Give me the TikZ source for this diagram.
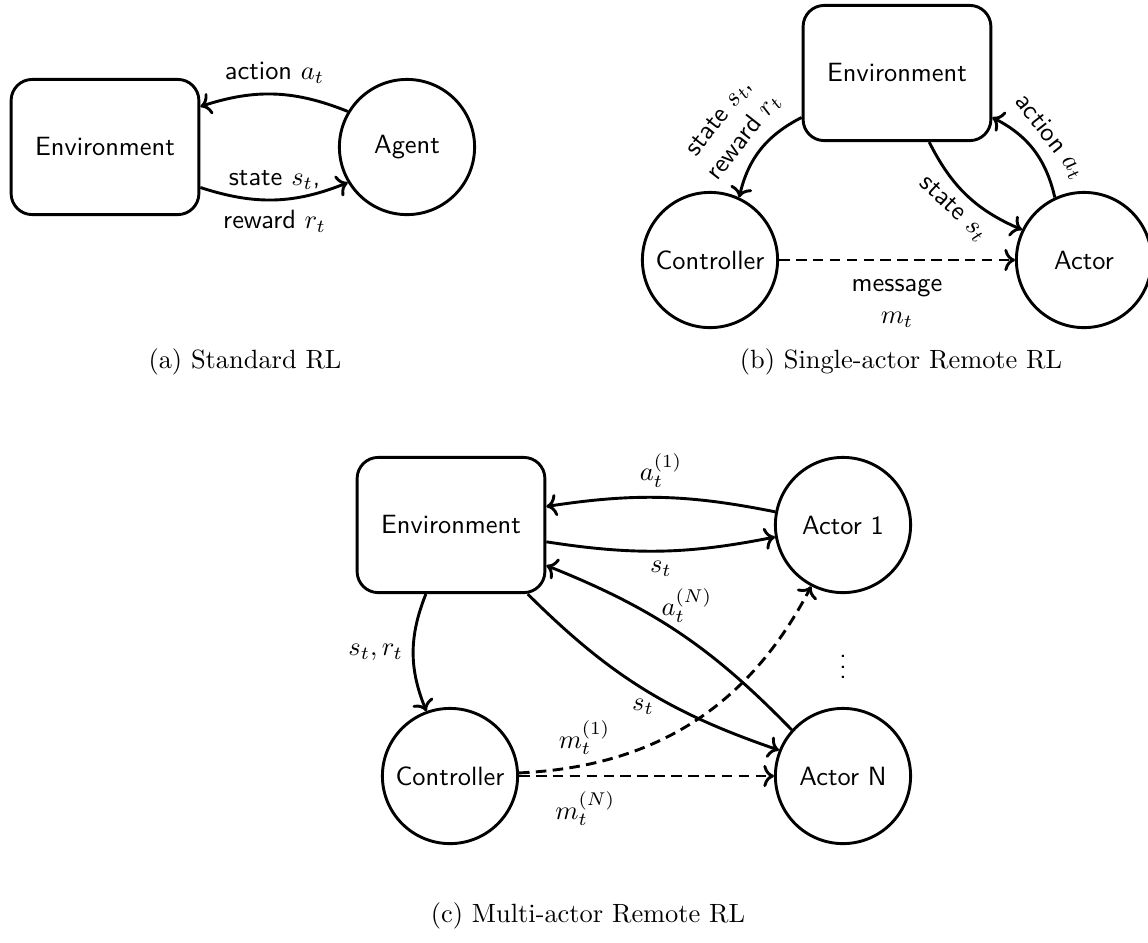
\documentclass[tikz,border=0pt]{standalone}
\usetikzlibrary{arrows.meta}
\begin{document}
\begin{tikzpicture}[x=0.3788pt, y=-0.3788pt,
  every node/.style={font=\sffamily},
  envbox/.style={draw, rounded corners=8pt, minimum width=2.5cm, minimum height=1.8cm, line width=1.1pt, inner sep=2pt},
  agentcirc/.style={draw, circle, minimum size=1.8cm, line width=1.1pt, inner sep=0pt},
  conn/.style={->, line width=1.1pt},
  msg/.style={conn, dash pattern=on 4pt off 2.4pt}
]
\useasboundingbox (0,0) rectangle (1148,942);

% (a) Standard RL
\node[envbox] (enva) at (105,147) {Environment};
\node[agentcirc] (agent) at (407,147) {Agent};
\draw[conn] (agent.149) to[bend right=20] node[above] {action $a_t$} (enva.23);
\draw[conn] (enva.337) to[bend right=20] node[above] {state $s_t$,} node[below] {reward $r_t$} (agent.211);
\node (capa) at (245,362) {\normalfont (a) Standard RL};

% (b) Single-actor Remote RL
\node[envbox] (envb) at (897,73) {Environment};
\node[agentcirc] (ctrlb) at (710,260) {Controller};
\node[agentcirc] (actorb) at (1084,260) {Actor};
\draw[conn] (envb.205) to[bend right=25] node[above, sloped, align=center] {state $s_t$,\\reward $r_t$} (ctrlb.65);
\draw[conn] (envb.295) to[bend right=20] node[below, sloped] {state $s_t$} (actorb.154);
\draw[conn] (actorb.115) to[bend right=25] node[above, sloped] {action $a_t$} (envb.335);
\draw[msg] (ctrlb) -- node[below, yshift=-3.6pt, align=center] {message\\$m_t$} (actorb);
\node (capb) at (901,362) {\normalfont (b) Single-actor Remote RL};

% (c) Multi-actor Remote RL
\node[envbox] (envc) at (451,525) {Environment};
\node[agentcirc] (ctrlc) at (450,776) {Controller};
\node[agentcirc] (act1) at (843,525) {Actor 1};
\node[agentcirc] (actN) at (843,776) {Actor N};
\node (dots) at (843,659) {$\vdots$};
\draw[conn] (envc.250) to[bend right=22] node[left] {$s_t, r_t$} (ctrlc.110);
\draw[conn] (act1.169) to[bend right=10] node[above] {$a_t^{(1)}$} (envc.11);
\draw[conn] (envc.350) to[bend right=10] node[below] {$s_t$} (act1.190);
\draw[conn] (actN.138) to[bend right=12] node[above, xshift=3pt] {$a_t^{(N)}$} (envc.337);
\draw[conn] (envc.318) to[bend right=13] node[below] {$s_t$} (actN.158);
\draw[msg] (ctrlc) to[bend right=30] node[pos=0.17, above] {$m_t^{(1)}$} (act1);
\draw[msg] (ctrlc) -- node[pos=0.26, below, yshift=-2pt] {$m_t^{(N)}$} (actN);
\node (capc) at (588,916) {\normalfont (c) Multi-actor Remote RL};
\end{tikzpicture}
\end{document}
